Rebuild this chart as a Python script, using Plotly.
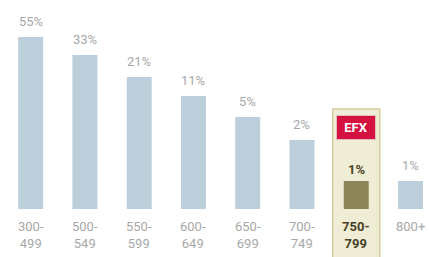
import plotly.graph_objects as go

categories = ["300-<br>499", "500-<br>549", "550-<br>599", "600-<br>649",
              "650-<br>699", "700-<br>749", "750-<br>799", "800+"]
percent_labels = ["55%", "33%", "21%", "11%", "5%", "2%", "1%", "1%"]
bar_heights = [172, 154, 132, 113, 92, 69, 28, 28]  # visual heights (stylised, not proportional)
highlight_index = 6
badge_text = "EFX"

FONT = "Liberation Sans Narrow, Roboto, Arial, sans-serif"
BAR = "#bccfda"
HL_BAR = "#8a8456"
GRAY_TXT = "#a8a8a8"
HL_TXT = "#4a4124"

xs = list(range(len(categories)))
colors = [HL_BAR if i == highlight_index else BAR for i in xs]

fig = go.Figure()
fig.add_trace(go.Bar(x=xs, y=bar_heights, marker=dict(color=colors, line=dict(width=0)),
                     hoverinfo="skip", showlegend=False))

shapes = [dict(type="rect", xref="x", yref="y", layer="below",
               x0=highlight_index - 0.433, x1=highlight_index + 0.433,
               y0=-60, y1=100,
               fillcolor="#efedd6", line=dict(color="#d6cc9e", width=1.5))]

annotations = []
for i, (cat, pct, h) in enumerate(zip(categories, percent_labels, bar_heights)):
    hl = i == highlight_index
    annotations.append(dict(
        x=i, y=h, xref="x", yref="y", text=f"<b>{pct}</b>" if hl else pct,
        showarrow=False, yanchor="middle", yshift=12 if hl else 16,
        font=dict(family=FONT, size=13, color=HL_TXT if hl else GRAY_TXT)))
    annotations.append(dict(
        x=i, y=0, xref="x", yref="y", text=f"<b>{cat}</b>" if hl else cat,
        showarrow=False, yanchor="top", yshift=-8,
        font=dict(family=FONT, size=13, color=HL_TXT if hl else GRAY_TXT)))

annotations.append(dict(
    x=highlight_index, y=82, xref="x", yref="y", text=f"<b>{badge_text}</b>",
    showarrow=False, width=36, height=21, bgcolor="#d3123f",
    bordercolor="#e9b9c0", borderwidth=1,
    font=dict(family=FONT, size=13, color="white")))

fig.update_layout(
    width=429, height=257,
    margin=dict(l=0, r=0, t=0, b=0),
    paper_bgcolor="white", plot_bgcolor="white",
    bargap=0.54,
    xaxis=dict(range=[-0.565, 7.341], visible=False, fixedrange=True),
    yaxis=dict(range=[-48, 209], visible=False, fixedrange=True),
    shapes=shapes, annotations=annotations,
)

fig.write_html("out.html", config={"displayModeBar": False},
               post_script="document.body.style.margin='0';document.body.style.overflow='hidden';")
